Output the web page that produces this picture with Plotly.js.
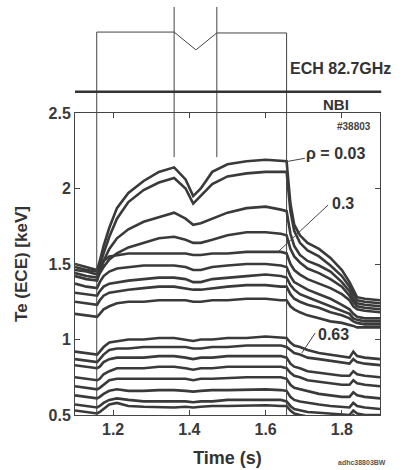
<!DOCTYPE html>
<html><head><meta charset="utf-8">
<script src="https://cdn.plot.ly/plotly-3.0.1.min.js"></script>
<style>html,body{margin:0;padding:0;background:#fff}#chart{width:412px;height:470px}</style>
</head><body><div id="chart"></div>
<script>
// time base (s)
const time = [1.10,1.13,1.158,1.165,1.175,1.19,1.21,1.24,1.28,1.32,1.36,1.39,1.41,1.43,1.46,1.50,1.55,1.60,1.64,1.655,1.665,1.675,1.69,1.71,1.74,1.77,1.80,1.82,1.83,1.84,1.86,1.90];
// upper ECE channels (keV)
const ch1 = [1.50,1.48,1.46,1.52,1.62,1.74,1.87,1.97,2.05,2.11,2.14,2.06,1.95,2.00,2.11,2.16,2.18,2.19,2.18,2.18,1.90,1.76,1.69,1.64,1.60,1.54,1.46,1.38,1.33,1.28,1.27,1.26];
const ch2 = [1.48,1.46,1.45,1.49,1.57,1.68,1.80,1.91,1.99,2.04,2.07,2.00,1.90,1.95,2.03,2.08,2.10,2.11,2.11,2.11,1.85,1.72,1.64,1.59,1.55,1.49,1.42,1.35,1.30,1.26,1.25,1.24];
const ch3 = [1.46,1.45,1.43,1.46,1.52,1.60,1.67,1.73,1.78,1.81,1.84,1.80,1.76,1.77,1.80,1.84,1.87,1.88,1.86,1.85,1.70,1.62,1.56,1.52,1.49,1.45,1.38,1.32,1.27,1.24,1.23,1.22];
const ch4 = [1.44,1.42,1.41,1.44,1.48,1.53,1.57,1.61,1.64,1.67,1.68,1.66,1.64,1.64,1.66,1.69,1.71,1.71,1.70,1.69,1.60,1.55,1.51,1.47,1.44,1.40,1.35,1.29,1.25,1.22,1.21,1.20];
const ch5 = [1.42,1.40,1.39,1.45,1.52,1.55,1.56,1.57,1.57,1.57,1.57,1.57,1.56,1.56,1.57,1.57,1.58,1.58,1.58,1.57,1.50,1.46,1.43,1.40,1.37,1.34,1.30,1.26,1.22,1.20,1.19,1.18];
const ch6 = [1.37,1.35,1.34,1.38,1.42,1.45,1.47,1.48,1.49,1.49,1.49,1.48,1.46,1.46,1.48,1.49,1.50,1.50,1.49,1.48,1.42,1.38,1.36,1.33,1.30,1.27,1.23,1.20,1.17,1.15,1.14,1.14];
const ch7 = [1.31,1.30,1.29,1.32,1.35,1.37,1.38,1.39,1.40,1.41,1.41,1.40,1.38,1.38,1.40,1.41,1.42,1.43,1.42,1.41,1.36,1.33,1.30,1.28,1.25,1.22,1.19,1.17,1.14,1.13,1.12,1.12];
const ch8 = [1.25,1.24,1.23,1.26,1.29,1.31,1.32,1.33,1.34,1.35,1.35,1.34,1.33,1.33,1.34,1.35,1.36,1.36,1.35,1.35,1.30,1.27,1.25,1.23,1.21,1.18,1.16,1.14,1.12,1.11,1.10,1.10];
const ch9 = [1.17,1.16,1.15,1.17,1.20,1.22,1.24,1.25,1.25,1.26,1.26,1.26,1.25,1.25,1.26,1.26,1.27,1.27,1.26,1.26,1.22,1.20,1.18,1.16,1.14,1.12,1.11,1.10,1.09,1.08,1.08,1.08];
// lower ECE channels (keV)
const ch10 = [0.92,0.91,0.90,0.92,0.95,0.98,0.99,1.00,1.00,1.01,1.01,1.00,0.99,1.00,1.00,1.01,1.01,1.02,1.01,1.01,0.98,0.96,0.95,0.93,0.91,0.90,0.89,0.88,0.92,0.89,0.88,0.87];
const ch11 = [0.87,0.86,0.85,0.87,0.90,0.93,0.94,0.94,0.95,0.95,0.95,0.95,0.94,0.94,0.95,0.95,0.96,0.96,0.96,0.95,0.93,0.91,0.90,0.88,0.87,0.86,0.85,0.84,0.87,0.85,0.84,0.83];
const ch12 = [0.83,0.82,0.81,0.82,0.85,0.87,0.88,0.88,0.88,0.89,0.89,0.88,0.87,0.88,0.88,0.89,0.89,0.89,0.89,0.88,0.84,0.82,0.81,0.79,0.78,0.77,0.76,0.76,0.79,0.77,0.76,0.75];
const ch13 = [0.75,0.74,0.73,0.74,0.77,0.79,0.81,0.81,0.81,0.82,0.82,0.81,0.80,0.81,0.81,0.82,0.82,0.82,0.82,0.81,0.78,0.76,0.75,0.73,0.72,0.71,0.70,0.70,0.73,0.71,0.70,0.69];
const ch14 = [0.69,0.68,0.67,0.68,0.70,0.73,0.74,0.74,0.74,0.745,0.745,0.74,0.73,0.74,0.74,0.745,0.75,0.75,0.75,0.74,0.70,0.68,0.67,0.66,0.64,0.63,0.62,0.62,0.65,0.63,0.62,0.61];
const ch15 = [0.63,0.62,0.61,0.62,0.64,0.66,0.67,0.66,0.66,0.665,0.665,0.66,0.655,0.66,0.665,0.665,0.67,0.67,0.665,0.66,0.62,0.60,0.59,0.58,0.57,0.56,0.555,0.55,0.58,0.56,0.55,0.54];
const ch16 = [0.57,0.56,0.55,0.56,0.58,0.60,0.61,0.60,0.59,0.59,0.59,0.59,0.585,0.59,0.59,0.60,0.60,0.60,0.60,0.59,0.56,0.54,0.53,0.52,0.515,0.51,0.505,0.50,0.53,0.51,0.50,0.50];
const ch17 = [0.53,0.52,0.51,0.52,0.54,0.57,0.58,0.56,0.555,0.55,0.55,0.555,0.55,0.555,0.56,0.56,0.565,0.565,0.56,0.56,0.53,0.51,0.50,0.49,0.485,0.48,0.475,0.47,0.50,0.48,0.47,0.47];
const channels = [ch1,ch2,ch3,ch4,ch5,ch6,ch7,ch8,ch9,ch10,ch11,ch12,ch13,ch14,ch15,ch16,ch17];

// ECH waveform event times (s)
const echOn = 1.157, notchStart = 1.36, notchMin = 1.417, notchEnd = 1.472, echOff = 1.655;
const xTicks = [1.2,1.4,1.6,1.8];
const yTicks = [0.5,1,1.5,2,2.5];
const yTickText = ['0.5','1','1.5','2','2.5'];

const ink = '#3a3a3a';
const traces = channels.map(v => ({
  x: time, y: v, type: 'scatter', mode: 'lines',
  line: {color: ink, width: 2.6}, hoverinfo: 'skip', showlegend: false
}));

const F = 'Liberation Sans, Arial, sans-serif';
const thin = {color: '#444', width: 1};
const shapes = [
  // ECH waveform above the plot
  {type:'line', xref:'x', yref:'paper', x0:echOn, x1:echOn, y0:0, y1:1.268, line:thin},
  {type:'line', xref:'x', yref:'paper', x0:echOn, x1:notchStart, y0:1.268, y1:1.268, line:thin},
  {type:'line', xref:'x', yref:'paper', x0:notchStart, x1:notchMin, y0:1.268, y1:1.209, line:thin},
  {type:'line', xref:'x', yref:'paper', x0:notchMin, x1:notchEnd, y0:1.209, y1:1.265, line:thin},
  {type:'line', xref:'x', yref:'paper', x0:notchEnd, x1:echOff, y0:1.265, y1:1.265, line:thin},
  {type:'line', xref:'x', yref:'paper', x0:echOff, x1:echOff, y0:0, y1:1.265, line:thin},
  {type:'line', xref:'x', yref:'paper', x0:notchStart, x1:notchStart, y0:0.854, y1:1.351, line:thin},
  {type:'line', xref:'x', yref:'paper', x0:notchEnd, x1:notchEnd, y0:0.854, y1:1.351, line:thin},
  // NBI bar
  {type:'line', xref:'paper', yref:'paper', x0:0, x1:1.004, y0:1.07, y1:1.07, line:{color:'#333', width:2.5}},
  // label leaders
  {type:'line', xref:'x', yref:'y', x0:1.659, y0:2.18, x1:1.703, y1:2.2, line:thin},
  {type:'line', xref:'x', yref:'y', x0:1.764, y0:1.891, x1:1.632, y1:1.579, line:thin},
  {type:'line', xref:'x', yref:'y', x0:1.730, y0:1.043, x1:1.695, y1:0.911, line:thin}
];

const ann = (text, x, y, xref, yref, size, color, xanchor) => ({
  text, x, y, xref, yref, showarrow:false,
  xanchor: xanchor || 'center', yanchor:'middle',
  font:{family:F, size, color: color || '#333', weight:'bold'}
});

const annotations = [
  ann('ECH 82.7GHz', 0.698, 1.146, 'paper', 'paper', 16, '#333', 'left'),
  ann('NBI', 0.856, 1.027, 'paper', 'paper', 15),
  ann('#38803', 0.915, 0.954, 'paper', 'paper', 10, '#444'),
  ann('ρ = 0.03', 1.782, 2.235, 'x', 'y', 16),
  ann('0.3', 1.804, 1.904, 'x', 'y', 16),
  ann('0.63', 1.779, 1.030, 'x', 'y', 16),
  ann('adhc38803BW', 0.94, -0.156, 'paper', 'paper', 7, '#555')
];

const layout = {
  width: 412, height: 470,
  margin: {l:75, r:32, t:113, b:55},
  paper_bgcolor:'#fff', plot_bgcolor:'#fff',
  showlegend:false,
  xaxis: {
    range:[1.1,1.9], tickvals:xTicks, ticktext:xTicks.map(String),
    ticks:'inside', ticklen:5, tickcolor:'#444', mirror:'ticks',
    showline:true, linecolor:'#444', linewidth:1, showgrid:false, zeroline:false,
    tickfont:{family:F, size:16, color:ink, weight:'bold'},
    title:{text:'Time (s)', font:{family:F, size:18, color:'#333', weight:'bold'}, standoff:14}
  },
  yaxis: {
    range:[0.5,2.5], tickvals:yTicks, ticktext:yTickText,
    ticks:'inside', ticklen:5, tickcolor:'#444', mirror:'ticks',
    showline:true, linecolor:'#444', linewidth:1, showgrid:false, zeroline:false,
    tickfont:{family:F, size:16, color:ink, weight:'bold'},
    title:{text:'Te (ECE) [keV]', font:{family:F, size:17, color:'#333', weight:'bold'}, standoff:16}
  },
  shapes, annotations
};

Plotly.newPlot('chart', traces, layout, {displayModeBar:false, staticPlot:true});
</script>
</body></html>
